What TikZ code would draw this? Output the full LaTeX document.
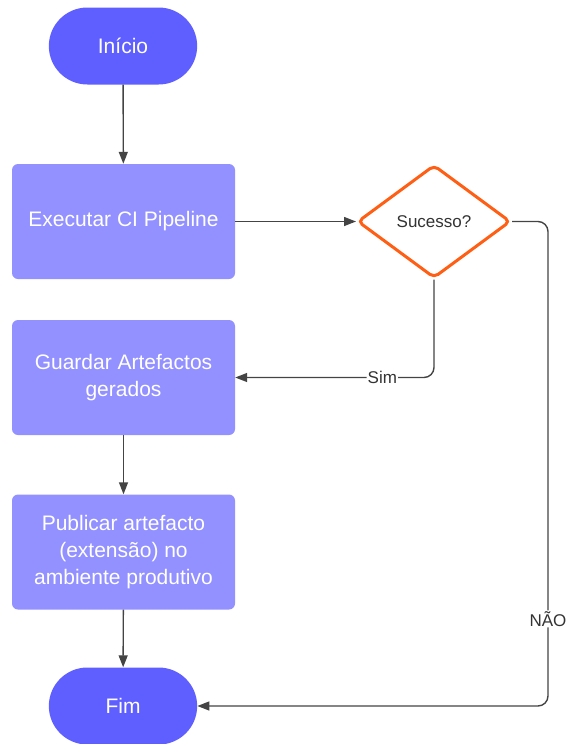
\documentclass[tikz,border=0pt]{standalone}
\usepackage{fontspec}
\setmainfont{Liberation Sans}
\usetikzlibrary{arrows.meta,shapes.geometric,shapes.misc}
\definecolor{Indigo}{HTML}{5F5FFF}
\definecolor{Lilac}{HTML}{9291FF}
\definecolor{Flame}{HTML}{FF5F14}
\definecolor{Ink}{HTML}{444444}
\definecolor{Label}{HTML}{333333}
\tikzset{
  conn/.style={-{Triangle[length=12pt,width=9pt]}, line width=1.4pt, draw=Ink, rounded corners=10pt},
  termnode/.style={rounded rectangle, fill=Indigo, draw=none, minimum width=155pt, minimum height=77pt, text=white, font=\fontsize{21}{27}\selectfont},
  stepbox/.style={rounded corners=6pt, fill=Lilac, draw=none, minimum width=223pt, minimum height=115pt, text=white, align=center, font=\fontsize{21}{27}\selectfont},
  decnode/.style={diamond, aspect=1.36, draw=Flame, fill=white, line width=3pt, rounded corners=5pt, minimum width=153pt, minimum height=113pt, inner sep=0pt, text=Label, font=\fontsize{17}{20}\selectfont},
  edgelabel/.style={fill=white, inner sep=1pt, text=Label, font=\fontsize{17}{20}\selectfont},
}
\begin{document}
\begin{tikzpicture}[x=1pt,y=-1pt]
\path[use as bounding box] (0,0) rectangle (566,744);

% terminals and steps
\node[termnode] (inicio) at (123,46) {Início};
\node[stepbox] (exec) at (123.5,221.5) {Executar CI Pipeline};
\node[stepbox] (guardar) at (123.5,377.5) {Guardar Artefactos\\gerados};
\node[stepbox] (publicar) at (123.5,552) {Publicar artefacto\\(extensão) no\\ambiente produtivo};
\node[termnode] (fim) at (123,706) {Fim};

% decision
\node[decnode] (sucesso) at (434,221.5) {Sucesso?};
\coordinate (naobend) at (548,221.5);

% connectors
\draw[conn] (inicio) -- (exec);
\draw[conn] (exec.east) -- (sucesso.west);
\draw[conn] (sucesso.south) |- node[edgelabel,pos=0.63] {Sim} (guardar.east);
\draw[conn] (guardar) -- (publicar);
\draw[conn] (publicar) -- (fim);
\draw[conn] (sucesso.east) -- (naobend) |- node[edgelabel,pos=0.41] {NÃO} (fim.east);
\end{tikzpicture}
\end{document}
